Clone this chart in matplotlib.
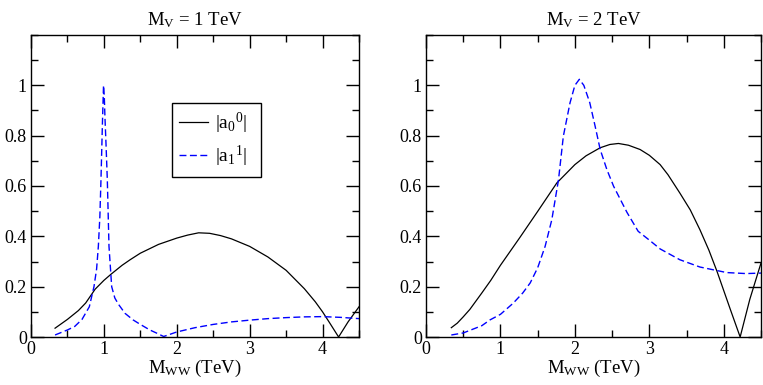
import matplotlib
matplotlib.use("Agg")
from matplotlib import pyplot as plt
from matplotlib.ticker import MultipleLocator

# M_V = 1 TeV panel
x_a00_1 = [0.33, 0.5, 0.65, 0.75, 0.88, 1.0, 1.1, 1.25, 1.36, 1.5, 1.75, 2.0, 2.15, 2.3, 2.45,
           2.6, 2.75, 3.0, 3.25, 3.5, 3.75, 3.9, 4.0, 4.1, 4.22, 4.35, 4.5]
y_a00_1 = [0.035, 0.07, 0.105, 0.135, 0.19, 0.225, 0.25, 0.285, 0.307, 0.333, 0.368, 0.393, 0.405,
           0.414, 0.412, 0.403, 0.39, 0.36, 0.318, 0.265, 0.192, 0.14, 0.1, 0.055, 0.0, 0.06, 0.12]
x_a11_1 = [0.33, 0.5, 0.6, 0.7, 0.8, 0.864, 0.9, 0.924, 0.945, 0.96, 0.98, 0.995, 1.005, 1.015,
           1.03, 1.047, 1.07, 1.107, 1.15, 1.2, 1.29, 1.4, 1.5, 1.63, 1.72, 1.82, 2.0, 2.25, 2.5,
           2.75, 3.0, 3.25, 3.5, 3.75, 4.0, 4.25, 4.5]
y_a11_1 = [0.008, 0.028, 0.042, 0.07, 0.12, 0.2, 0.27, 0.36, 0.48, 0.625, 0.85, 1.0, 0.96, 0.87,
           0.76, 0.625, 0.36, 0.2, 0.155, 0.13, 0.094, 0.068, 0.05, 0.028, 0.016, 0.002, 0.02,
           0.037, 0.05, 0.06, 0.067, 0.073, 0.077, 0.08, 0.081, 0.078, 0.073]

# M_V = 2 TeV panel
x_a00_2 = [0.34, 0.42, 0.5, 0.59, 0.75, 0.87, 1.0, 1.13, 1.26, 1.5, 1.757, 2.0, 2.15, 2.34, 2.47,
           2.585, 2.72, 2.876, 3.0, 3.145, 3.25, 3.41, 3.55, 3.68, 3.8, 3.91, 4.0, 4.09, 4.22,
           4.35, 4.5]
y_a00_2 = [0.037, 0.055, 0.08, 0.11, 0.175, 0.225, 0.285, 0.34, 0.395, 0.499, 0.612, 0.685, 0.72,
           0.752, 0.765, 0.769, 0.762, 0.745, 0.722, 0.685, 0.645, 0.572, 0.505, 0.426, 0.345,
           0.26, 0.184, 0.108, 0.0, 0.15, 0.294]
x_a11_2 = [0.34, 0.5, 0.75, 0.86, 1.0, 1.17, 1.3, 1.4, 1.5, 1.6, 1.69, 1.78, 1.845, 1.935, 2.0,
           2.06, 2.12, 2.2, 2.27, 2.34, 2.43, 2.52, 2.7, 2.85, 3.0, 3.145, 3.41, 3.68, 4.04, 4.3,
           4.5]
y_a11_2 = [0.008, 0.016, 0.045, 0.068, 0.09, 0.134, 0.175, 0.215, 0.275, 0.36, 0.466, 0.625, 0.798,
           0.931, 1.0, 1.024, 1.0, 0.931, 0.84, 0.745, 0.665, 0.599, 0.495, 0.42, 0.385, 0.35,
           0.307, 0.278, 0.256, 0.252, 0.254]

titles = ["$M_V$ = 1 TeV", "$M_V$ = 2 TeV"]
lab0 = "$|a_0{}^0|$  "
lab1 = "$|a_1{}^1|$  "

plt.rcParams['font.family'] = ['Liberation Serif', 'DejaVu Serif']
plt.rcParams['mathtext.fontset'] = 'custom'
plt.rcParams['mathtext.rm'] = 'Liberation Serif'
plt.rcParams['mathtext.it'] = 'Liberation Serif'
plt.rcParams['mathtext.default'] = 'regular'
plt.rcParams['font.size'] = 12

fig = plt.figure(figsize=(7.63, 3.85), dpi=100)
ax1 = fig.add_axes([31 / 763, 48 / 385, 328 / 763, 302 / 385])
ax2 = fig.add_axes([426 / 763, 48 / 385, 335 / 763, 302 / 385])

data = [(x_a00_1, y_a00_1, x_a11_1, y_a11_1), (x_a00_2, y_a00_2, x_a11_2, y_a11_2)]
for ax, (xa, ya, xb, yb), t in zip([ax1, ax2], data, titles):
    ax.plot(xa, ya, color='black', linewidth=0.9, label=lab0)
    ax.plot(xb, yb, color='#0000ff', linewidth=1.0, dashes=(5, 2.5), label=lab1)
    ax.set_xlim(0, 4.5)
    ax.set_ylim(0, 1.2)
    ax.set_xticks([0, 1, 2, 3, 4])
    ax.set_yticks([0, 0.2, 0.4, 0.6, 0.8, 1.0])
    ax.set_yticklabels(["0", "0.2", "0.4", "0.6", "0.8", "1"])
    ax.xaxis.set_minor_locator(MultipleLocator(0.5))
    ax.yaxis.set_minor_locator(MultipleLocator(0.1))
    ax.tick_params(which='both', direction='in', top=True, right=True, width=1.0, labelsize=13)
    ax.tick_params(which='major', length=9.5, pad=3)
    ax.tick_params(which='minor', length=5)
    for s in ax.spines.values():
        s.set_linewidth(1.0)
    ax.set_title(t, fontsize=13.5, pad=7)
    ax.set_xlabel("$M_{WW}$ (TeV)", fontsize=13.5, labelpad=0)

leg = ax1.legend(loc='upper left', bbox_to_anchor=(0.429, 0.776), borderaxespad=0, fancybox=False,
                 framealpha=1, edgecolor='black', fontsize=14, handlelength=1.45, borderpad=0.4,
                 labelspacing=0.42, handletextpad=0.4)
leg.get_frame().set_linewidth(1.0)

fig.savefig("out.png", dpi=100)
